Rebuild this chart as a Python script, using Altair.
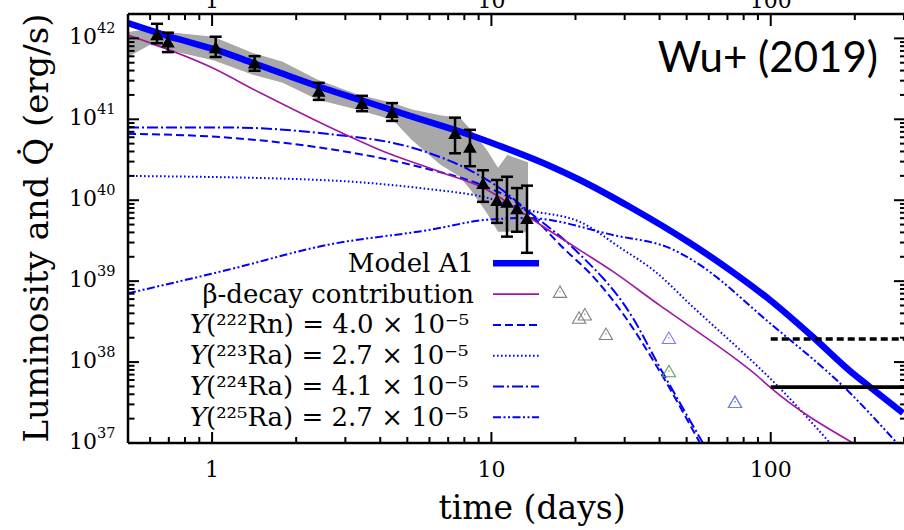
import altair as alt
import pandas as pd

# ---------------- values (time in days, log10 L in erg/s) ----------------
model_t = [0.5, 0.755, 1.008, 1.401, 1.722, 2.434, 3.675, 5.551, 8.381, 10.73, 16.21, 20.75, 31.35, 51.40, 71.46, 99.38, 141.6, 192.2, 226.6, 297.4]
model_logL = [42.190, 41.992, 41.869, 41.696, 41.584, 41.399, 41.201, 41.002, 40.806, 40.670, 40.423, 40.250, 39.916, 39.471, 39.137, 38.767, 38.310, 37.890, 37.692, 37.371]

beta_t = [0.5, 1.01, 1.48, 2.37, 3.19, 3.99, 6.55, 9.64, 13.5, 16.2, 20.8, 27.2, 40.1, 51.4, 91.5, 99.4, 197]
beta_logL = [42.04, 41.63, 41.33, 40.98, 40.77, 40.62, 40.35, 40.13, 39.80, 39.62, 39.38, 39.12, 38.70, 38.44, 37.80, 37.69, 37.0]

rn222_t = [0.5, 1.07, 2.43, 5.55, 9.64, 12.0, 14.1, 18.2, 22.5, 30.1, 39.2, 55.8]
rn222_logL = [40.82, 40.78, 40.65, 40.41, 40.16, 40.00, 39.79, 39.40, 39.10, 38.56, 37.94, 37.0]

ra223_t = [0.5, 2.43, 5.55, 9.64, 13.5, 20.8, 29.6, 37.9, 52.7, 91.5, 99.4, 163]
ra223_logL = [40.30, 40.25, 40.15, 40.03, 39.88, 39.73, 39.39, 39.14, 38.68, 37.92, 37.80, 37.0]

ra224_t = [0.5, 1.07, 2.43, 5.55, 8.38, 10.6, 13.6, 19.9, 31.9, 40.0, 57.2]
ra224_logL = [40.90, 40.90, 40.83, 40.62, 40.37, 40.16, 39.86, 39.39, 38.56, 37.94, 37.0]

ra225_t = [0.5, 1.14, 2.60, 5.93, 9.72, 13.5, 27.2, 44.7, 53.0, 99.4, 192, 283]
ra225_logL = [38.85, 39.14, 39.45, 39.63, 39.76, 39.78, 39.57, 39.39, 39.25, 38.48, 37.62, 37.0]

band_t = [0.5, 0.6, 0.69, 1.01, 1.40, 1.79, 2.39, 3.30, 4.44, 5.2, 6.55, 7.72, 8.59, 9.64, 10.56, 11.4, 13.52]
band_hi = [42.08, 42.12, 42.08, 42.02, 41.82, 41.71, 41.49, 41.31, 41.20, 41.12, 41.05, 41.02, 40.84, 40.62, 40.40, 40.56, 40.47]
band_lo = [41.77, 41.92, 41.86, 41.73, 41.55, 41.45, 41.24, 41.12, 40.99, 40.74, 40.44, 40.29, 40.09, 39.84, 39.61, 39.61, 39.60]

obs_t = [0.635, 0.695, 1.03, 1.42, 2.41, 3.44, 4.41, 7.41, 8.38, 9.33, 10.47, 11.37, 12.35, 13.41]
obs_logL = [42.05, 41.96, 41.89, 41.70, 41.35, 41.20, 41.09, 40.83, 40.66, 40.21, 40.00, 39.98, 39.90, 39.78]
obs_lo = [41.94, 41.83, 41.77, 41.60, 41.24, 41.10, 40.98, 40.58, 40.42, 39.98, 39.72, 39.55, 39.61, 39.35]
obs_hi = [42.18, 42.07, 42.02, 41.78, 41.45, 41.29, 41.20, 41.02, 40.87, 40.37, 40.25, 40.29, 40.15, 40.18]

late_grey_t = [17.6, 20.6, 21.6, 25.7]
late_grey_logL = [38.87, 38.55, 38.59, 38.35]
late_blue_t = [43.2, 74.5]
late_blue_logL = [38.30, 37.51]
late_green_t = [43.2, 74.5]
late_green_logL = [37.89, 37.51]

limit_t = [100, 300]
limit_dashed_logL = [38.285, 38.285]
limit_solid_logL = [37.69, 37.69]

legend_labels = ["Model A1", "β-decay contribution",
                 "(²²²Rn) = 4.0 × 10⁻⁵", "(²²³Ra) = 2.7 × 10⁻⁵",
                 "(²²⁴Ra) = 4.1 × 10⁻⁵", "(²²⁵Ra) = 2.7 × 10⁻⁵"]

y_exps = [37, 38, 39, 40, 41, 42]
y_minor = [m * 10.0 ** e for e in [37, 38, 39, 40, 41] for m in [2, 3, 4, 5, 6, 7, 8, 9]] + [2e42]
x_major = [1, 10, 100]
x_major_labels = ["1", "10", "100"]
x_minor = [0.5, 0.6, 0.7, 0.8, 0.9, 2, 3, 4, 5, 6, 7, 8, 9, 20, 30, 40, 50, 60, 70, 80, 90, 200, 300]

# ---------------- chart ----------------
SERIF = "DejaVu Serif"
W, H = 776, 429
BLUE = "#0000ff"
xs = alt.Scale(type="log", domain=[0.5, 300], nice=False)
ys = alt.Scale(type="log", domain=[1e37, 2e42], nice=False)


def X(f="t"):
    return alt.X(f"{f}:Q", scale=xs, axis=None)


def Y(f="L"):
    return alt.Y(f"{f}:Q", scale=ys, axis=None)


def pw(v):
    return [10.0 ** x for x in v]


def df_tl(t, logL):
    return pd.DataFrame({"t": t, "L": pw(logL)})


one = pd.DataFrame({"k": [0]})
layers = []

# grey uncertainty band
band = pd.DataFrame({"t": band_t, "hi": pw(band_hi), "lo": pw(band_lo)})
layers.append(alt.Chart(band).mark_area(color="#a8a8a8", opacity=1, clip=True)
              .encode(x=X(), y=Y("hi"), y2=alt.Y2("lo:Q")))

STY = {
    "model": dict(color=BLUE, strokeWidth=6.5),
    "beta": dict(color="#a0189f", strokeWidth=1.6),
    "rn222": dict(color=BLUE, strokeWidth=2, strokeDash=[8, 4]),
    "ra223": dict(color=BLUE, strokeWidth=2, strokeDash=[1.6, 2.4]),
    "ra224": dict(color=BLUE, strokeWidth=2, strokeDash=[11, 3, 2, 3]),
    "ra225": dict(color=BLUE, strokeWidth=2, strokeDash=[8, 2.5, 2, 2.5, 2, 2.5]),
}
series = [("ra225", ra225_t, ra225_logL), ("ra224", ra224_t, ra224_logL),
          ("ra223", ra223_t, ra223_logL), ("rn222", rn222_t, rn222_logL),
          ("beta", beta_t, beta_logL), ("model", model_t, model_logL)]
for key, t, lv in series:
    layers.append(alt.Chart(df_tl(t, lv)).mark_line(clip=True, interpolate="monotone", **STY[key])
                  .encode(x=X(), y=Y()))

# horizontal black limits
layers.append(alt.Chart(df_tl(limit_t, limit_dashed_logL)).mark_line(color="black", strokeWidth=3.6, strokeDash=[7, 4])
              .encode(x=X(), y=Y()))
layers.append(alt.Chart(df_tl(limit_t, limit_solid_logL)).mark_line(color="black", strokeWidth=3.6)
              .encode(x=X(), y=Y()))

# late-time hollow triangles
for t, lv, col in [(late_grey_t, late_grey_logL, "#808080"), (late_green_t, late_green_logL, "#5c9c5c"),
                   (late_blue_t, late_blue_logL, "#7a7aff")]:
    d = df_tl(t, lv)
    layers.append(alt.Chart(d).mark_point(shape="triangle-up", filled=False, size=175, strokeWidth=1.1,
                                          color=col, opacity=1).encode(x=X(), y=Y()))
    layers.append(alt.Chart(d).mark_point(shape="circle", filled=True, size=2, color=col, opacity=1)
                  .encode(x=X(), y=Y()))

# observed points with error bars
obs = pd.DataFrame({"t": obs_t, "L": pw(obs_logL), "lo": pw(obs_lo), "hi": pw(obs_hi)})
layers.append(alt.Chart(obs).mark_rule(color="black", strokeWidth=2.5).encode(x=X(), y=Y("lo"), y2=alt.Y2("hi:Q")))
for f in ["lo", "hi"]:
    layers.append(alt.Chart(obs).mark_rule(color="black", strokeWidth=2.5, xOffset=-6, x2Offset=6)
                  .encode(x=X(), x2=alt.X2("t:Q"), y=Y(f)))
layers.append(alt.Chart(obs).mark_point(shape="triangle-up", filled=True, size=185, color="black", opacity=1)
              .encode(x=X(), y=Y()))

# legend (drawn by hand, labels left of the curves' samples)
ROW0, DROW = 249.3, 30.8
keys = ["model", "beta", "rn222", "ra223", "ra224", "ra225"]
for i, (key, lab) in enumerate(zip(keys, legend_labels)):
    ry = ROW0 + DROW * i
    layers.append(alt.Chart(one).mark_rule(**STY[key])
                  .encode(x=alt.value(365), x2=alt.value(411), y=alt.value(ry)))
    if i < 2:
        layers.append(alt.Chart(one).mark_text(align="right", baseline="alphabetic", font=SERIF, fontSize=26,
                                               color="black")
                      .encode(x=alt.value(346), y=alt.value(ry + 8.5), text=alt.value(lab)))
    else:
        layers.append(alt.Chart(one).mark_text(align="right", baseline="alphabetic", font=SERIF, fontSize=26,
                                               fontStyle="italic", color="black")
                      .encode(x=alt.value(79), y=alt.value(ry + 8.5), text=alt.value("Y")))
        layers.append(alt.Chart(one).mark_text(align="left", baseline="alphabetic", font=SERIF, fontSize=26,
                                               color="black")
                      .encode(x=alt.value(78), y=alt.value(ry + 8.5), text=alt.value(lab)))

# frame (left, bottom, top spines)
SP = dict(color="black", strokeWidth=2.5)
layers.append(alt.Chart(one).mark_rule(**SP).encode(x=alt.value(0), y=alt.value(0), y2=alt.value(H)))
layers.append(alt.Chart(one).mark_rule(**SP).encode(x=alt.value(0), x2=alt.value(W), y=alt.value(H)))
layers.append(alt.Chart(one).mark_rule(**SP).encode(x=alt.value(0), x2=alt.value(W), y=alt.value(0)))

# ticks (inward)
ymaj = pd.DataFrame({"L": [10.0 ** e for e in y_exps], "exp": [str(e) for e in y_exps]})
ymin = pd.DataFrame({"L": y_minor})
xmaj = pd.DataFrame({"t": x_major, "lab": x_major_labels})
xmin = pd.DataFrame({"t": x_minor})
TK = dict(color="black", strokeWidth=2)
layers += [
    alt.Chart(ymaj).mark_rule(**TK).encode(y=Y(), x=alt.value(0), x2=alt.value(11)),
    alt.Chart(ymin).mark_rule(**TK).encode(y=Y(), x=alt.value(0), x2=alt.value(6.5)),
    alt.Chart(ymaj).mark_rule(**TK).encode(y=Y(), x=alt.value(W - 10), x2=alt.value(W + 2)),
    alt.Chart(ymin).mark_rule(**TK).encode(y=Y(), x=alt.value(W - 4), x2=alt.value(W + 2)),
    alt.Chart(xmaj).mark_rule(**TK).encode(x=X(), y=alt.value(H), y2=alt.value(H - 11)),
    alt.Chart(xmin).mark_rule(**TK).encode(x=X(), y=alt.value(H), y2=alt.value(H - 6)),
    alt.Chart(xmaj).mark_rule(**TK).encode(x=X(), y=alt.value(0), y2=alt.value(12)),
    alt.Chart(xmin).mark_rule(**TK).encode(x=X(), y=alt.value(0), y2=alt.value(6)),
]

# tick labels
layers += [
    alt.Chart(ymaj).mark_text(align="right", baseline="middle", font=SERIF, fontSize=22, color="black", dy=-1)
    .encode(y=Y(), x=alt.value(-31), text=alt.value("10")),
    alt.Chart(ymaj).mark_text(align="left", baseline="middle", font=SERIF, fontSize=14.5, color="black", dy=-9)
    .encode(y=Y(), x=alt.value(-31), text="exp:N"),
    alt.Chart(xmaj).mark_text(align="center", baseline="middle", font=SERIF, fontSize=22, color="black")
    .encode(x=X(), y=alt.value(H + 27), text="lab:N"),
    alt.Chart(xmaj).mark_text(align="center", baseline="alphabetic", font=SERIF, fontSize=22, color="black")
    .encode(x=X(), y=alt.value(-6), text="lab:N"),
]

# axis titles and annotation
layers += [
    alt.Chart(one).mark_text(align="center", baseline="alphabetic", font=SERIF, fontSize=33, color="black")
    .encode(x=alt.value(404), y=alt.value(505), text=alt.value("time (days)")),
    alt.Chart(one).mark_text(align="center", baseline="middle", font=SERIF, fontSize=34, angle=270, color="black")
    .encode(x=alt.value(-90), y=alt.value(214), text=alt.value("Luminosity and Q\u0307 (erg/s)")),
    alt.Chart(one).mark_text(align="right", baseline="alphabetic", font="Lato", fontSize=42, color="black")
    .encode(x=alt.value(750), y=alt.value(58), text=alt.value("Wu+ (2019)")),
]

chart = alt.layer(*layers).properties(
    width=W, height=H,
    autosize=alt.AutoSizeParams(type="none"),
    padding={"left": 128, "top": 14, "right": 0, "bottom": 87},
).configure_view(stroke=None)

chart.save("out.html", embed_options={"renderer": "svg", "actions": False})
